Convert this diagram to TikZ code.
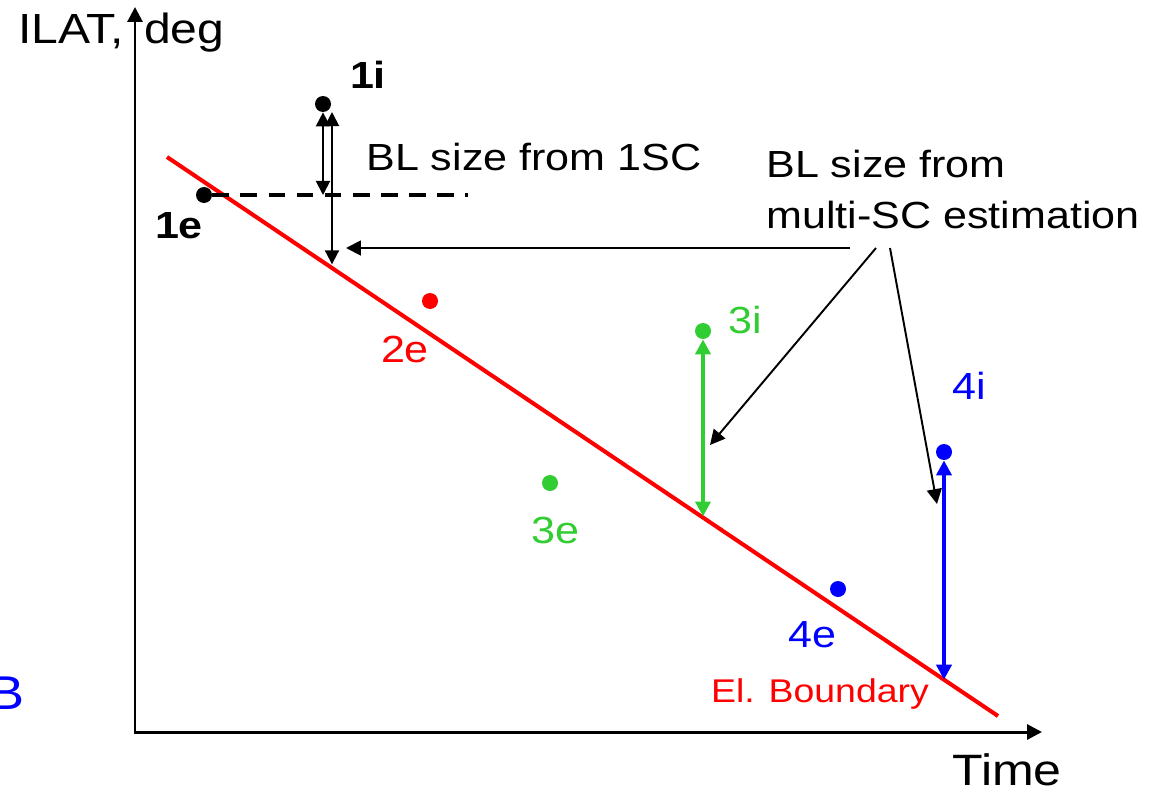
\documentclass[tikz,border=0pt]{standalone}
\usepackage{fontspec}
\setmainfont{Liberation Sans}[FakeStretch=1.14]
\usepackage{tikz}
\usetikzlibrary{arrows.meta,calc,positioning}
\definecolor{bndred}{RGB}{255,0,0}
\definecolor{scgreen}{RGB}{50,205,50}
\definecolor{scblue}{RGB}{0,0,255}

\begin{document}
\begin{tikzpicture}[x=0.02cm, y=-0.02cm,
    dot/.style={circle, fill, inner sep=0pt, minimum size=0.32cm},
    txt/.style={inner sep=0pt, font=\fontsize{21.5}{25}\selectfont},
    axlbl/.style={inner sep=0pt, font=\fontsize{24}{28}\selectfont},
    bnd/.style={bndred, line width=2.3pt},
    thinarr/.style={line width=1.1pt, -{Triangle[length=8.5pt,width=8.5pt]}},
    dblarr/.style={line width=1.1pt, {Triangle[length=8pt,width=8pt]}-{Triangle[length=8pt,width=8pt]}},
    fatarr/.style={line width=2.3pt, {Triangle[length=8.5pt,width=8.5pt]}-{Triangle[length=8.5pt,width=8.5pt]}}]
    \useasboundingbox (0,0) rectangle (1153,791);

    % Axes
    \coordinate (O) at (135,732);
    \coordinate (ytop) at (135,7);
    \coordinate (xend) at (1042,732);
    \draw[line width=1.7pt, {Triangle[length=8.5pt,width=8.5pt]}-{Triangle[length=8.5pt,width=8.5pt]}] (ytop) -- (O) -- (xend);
    \node[axlbl, anchor=base west] (ylab) at (18,43) {ILAT,\hspace{0.15em} deg};
    \node[axlbl, anchor=base west, font=\fontsize{25}{29}\selectfont] (xlab) at (952,785) {Time};
    \node[axlbl, scblue, anchor=base east, font=\fontsize{27}{31}\selectfont] (bcut) at (25,709) {B};

    % Boundary line
    \coordinate (bA) at (167,157);
    \coordinate (bB) at (998,716);
    \draw[bnd] (bA) -- (bB);
    \coordinate (b1) at ($(bA)!0.192!(bB)$);
    \coordinate (b3) at ($(bA)!0.643!(bB)$);
    \coordinate (b4) at ($(bA)!0.935!(bB)$);
    \node[anchor=base, inner sep=0pt, bndred, font=\fontsize{18.7}{22}\selectfont] (bname) at (820,702) {El. Boundary};

    % Crossings
    \node[dot] (p1i) at (323,104) {};
    \node[dot] (p1e) at (204,195) {};
    \node[dot, bndred] (p2e) at (430,301) {};
    \node[dot, scgreen] (p3i) at (703,331) {};
    \node[dot, scgreen] (p3e) at (550,483) {};
    \node[dot, scblue] (p4i) at (944,452) {};
    \node[dot, scblue] (p4e) at (838,589) {};

    % Crossing labels
    \node[txt, anchor=base] (l1i) at (368,88) {\textbf{1i}};
    \node[txt, anchor=base] (l1e) at (179,238) {\textbf{1e}};
    \node[txt, anchor=base, bndred] (l2e) at (405,362) {2e};
    \node[txt, anchor=base, scgreen] (l3i) at (745,333) {3i};
    \node[txt, anchor=base, scgreen] (l3e) at (555,543) {3e};
    \node[txt, anchor=base, scblue] (l4i) at (969,399) {4i};
    \node[txt, anchor=base, scblue] (l4e) at (812,647) {4e};

    % BL size from one spacecraft
    \coordinate (d1) at (468,195);
    \draw[line width=2pt, dash pattern=on 9.5pt off 6.5pt] (p1e) -- (d1);
    \draw[dblarr] (p1i.south) -- (p1i |- p1e);
    \coordinate (q1) at (332,112);
    \draw[dblarr] (q1) -- (q1 |- b1);
    \node[txt, anchor=base west] (bl1) at (366,170) {BL size from 1SC};

    % BL size from several spacecraft
    \draw[fatarr, scgreen] (p3i.south) -- (p3i |- b3);
    \draw[fatarr, scblue] (p4i.south) -- (p4i |- b4);
    \node[txt, anchor=base west] (msc1) at (766,177) {BL size from};
    \node[txt, anchor=base west] (msc2) at (766,228) {multi-SC estimation};
    \coordinate (s1) at (850,248);
    \coordinate (s2) at (876,248);
    \coordinate (s3) at (890,248);
    \coordinate (t1) at (346,248);
    \coordinate (t3) at (710,445);
    \coordinate (t4) at (937,504);
    \draw[thinarr] (s1) -- (t1);
    \draw[thinarr] (s2) -- (t3);
    \draw[thinarr] (s3) -- (t4);

\end{tikzpicture}
\end{document}
